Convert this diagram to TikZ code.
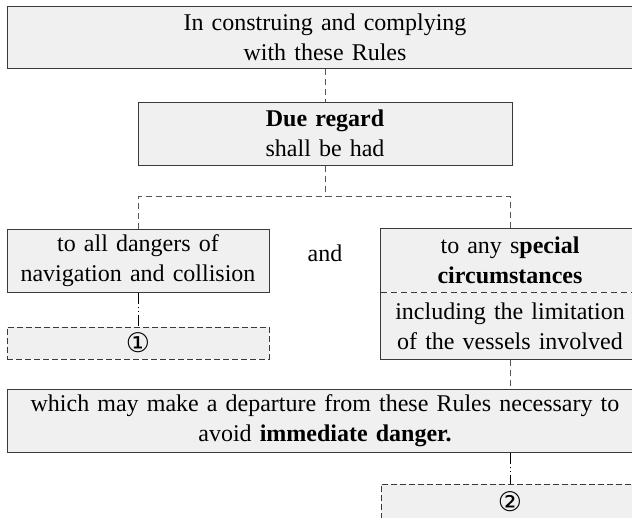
\documentclass[tikz,border=0pt]{standalone}
\usepackage{fontspec}
\setmainfont{Liberation Serif}[WordSpace=1.35]
\newfontfamily\circfont{DejaVu Sans}
\usetikzlibrary{positioning}
\definecolor{chartline}{HTML}{3A3A3A}
\definecolor{chartfill}{HTML}{F0F0F0}
\definecolor{chartdash}{HTML}{555555}

\begin{document}
\begin{tikzpicture}[
        x=1pt, y=1pt,
        every node/.style={font=\fontsize{24}{30}\selectfont},
        box/.style={
          draw=chartline, line width=1pt,
          fill=chartfill, text=black,
          inner sep=0pt, minimum height=63pt,
          align=center,
        },
        notebox/.style={
          box, dash pattern=on 6pt off 3pt,
          minimum height=32pt,
          font=\circfont\fontsize{27}{30}\selectfont,
        },
        link/.style={
          draw=chartdash, line width=1pt,
          dash pattern=on 6pt off 4pt,
        },
        dotlink/.style={
          draw=black, line width=1pt,
          dash pattern=on 11pt off 3pt on 1pt off 3pt on 1pt off 3pt,
        },
      ]
      \useasboundingbox (0,0) rectangle (632,-517);
      \clip (0,0) rectangle (632,-517);

      \node[box, minimum width=636pt, minimum height=62pt] (rules) at (325,-37)
        {In construing and complying\\with these Rules};
      \node[box, minimum width=374pt, below=33pt of rules] (regard)
        {\textbf{Due regard}\\shall be had};
      \coordinate (fork) at (325,-196);

      \node[box, minimum width=262pt] (dangers) at (138,-260.5)
        {to all dangers of\\navigation and collision};
      \node[notebox, minimum width=262pt, below=34pt of dangers] (note1) {①};
      \node (and) at (325,-253) {and};

      \node[box, draw=none, minimum width=258pt] (spec) at (510,-260.5)
        {to any s\textbf{pecial}\\\textbf{circumstances}};
      \node[box, draw=none, minimum width=258pt, minimum height=66pt,
        below=0pt of spec] (limit)
        {including the limitation\\of the vessels involved};
      \draw[chartline, line width=1pt] (spec.north west) rectangle (limit.south east);
      \draw[link, draw=chartline] (spec.south west) -- (spec.south east);

      \node[box, minimum width=636pt] (departure) at (325,-420.5)
        {which may make a departure from these Rules necessary to\\avoid \textbf{immediate danger.}};
      \node[notebox, minimum width=258pt, minimum height=40pt] (note2) at (510,-504)
        {\raisebox{5pt}{②}};

      \draw[link] (rules) -- (regard);
      \draw[link] (regard) -- (fork);
      \draw[link] (dangers.north) |- (fork) -| (spec.north);
      \draw[dotlink] (dangers) -- (note1);
      \draw[link] (limit.south) -- (limit.south |- departure.north);
      \draw[dotlink] (departure.south -| note2.north) -- (note2.north);
    \end{tikzpicture}
\end{document}
